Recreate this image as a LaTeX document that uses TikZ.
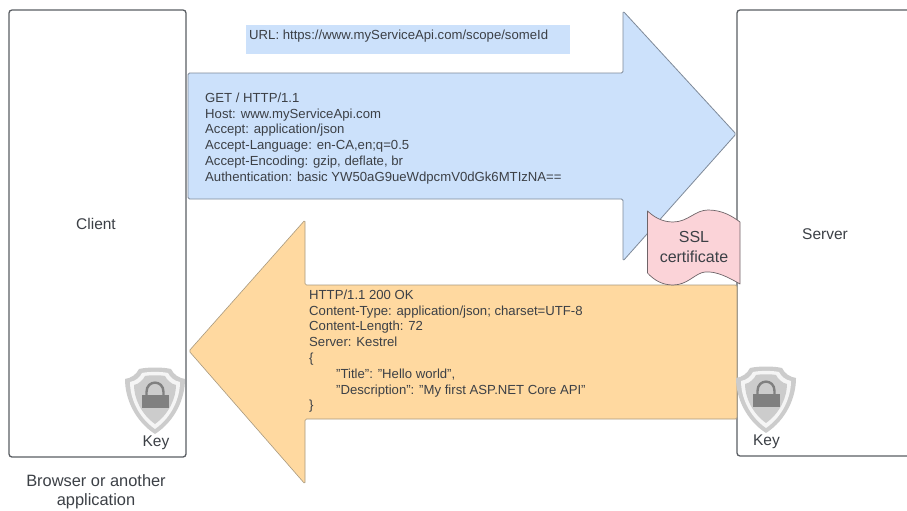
\documentclass[tikz,border=0pt]{standalone}
\usepackage{fontspec}
\setmainfont{Liberation Sans}
\definecolor{boxline}{HTML}{5A5E63}
\definecolor{bluefill}{HTML}{CCE1FB}
\definecolor{blueline}{HTML}{7F8A99}
\definecolor{orangefill}{HTML}{FFD9A0}
\definecolor{orangeline}{HTML}{A89A80}
\definecolor{pinkfill}{HTML}{FBD3D8}
\definecolor{pinkline}{HTML}{6E6468}
\definecolor{txt}{HTML}{3C4046}
\tikzset{
  panel/.style={draw=boxline,line width=1.3pt,rounded corners=3pt,fill=white},
  bluearrow/.style={draw=blueline,line width=0.8pt,fill=bluefill,rounded corners=1.5pt,line join=round},
  orangearrow/.style={draw=orangeline,line width=0.6pt,fill=orangefill,rounded corners=1.5pt,line join=round},
  sslflag/.style={draw=pinkline,line width=0.7pt,fill=pinkfill,line join=round},
  label/.style={text=txt,font=\fontsize{15.5}{19}\selectfont,inner sep=0pt,align=center},
  body/.style={text=txt,font=\fontsize{13.15}{15.8}\selectfont,inner sep=0pt,align=left,anchor=north west},
  keylabel/.style={text=txt,font=\fontsize{15.5}{18}\selectfont,inner sep=0pt},
  shieldouter/.style={fill=black!20,draw=none},
  shieldmid/.style={fill=white!96!black,draw=none},
  shieldinner/.style={fill=black!20,draw=none},
  lockbody/.style={fill=black!50,draw=none},
  lockhoop/.style={draw=black!50,line width=2.4pt,fill=none},
  keyshield/.pic={
    \fill[shieldouter] (-30,-22) .. controls (-24,-23) and (-19,-26) .. (-16,-32)
      .. controls (-8,-34) and (8,-34) .. (16,-32)
      .. controls (19,-26) and (24,-23) .. (30,-22)
      .. controls (30,-2) and (20,20) .. (0,33)
      .. controls (-20,20) and (-30,-2) .. (-30,-22) -- cycle;
    \fill[shieldmid] (-25,-19) .. controls (-19,-20) and (-15,-24) .. (-13,-28)
      .. controls (-6,-29.5) and (6,-29.5) .. (13,-28)
      .. controls (15,-24) and (19,-20) .. (25,-19)
      .. controls (25,-3) and (17,16) .. (0,28)
      .. controls (-17,16) and (-25,-3) .. (-25,-19) -- cycle;
    \fill[shieldinner] (-21,-16) .. controls (-16,-17) and (-12,-21) .. (-10,-25)
      .. controls (-5,-26) and (5,-26) .. (10,-25)
      .. controls (12,-21) and (16,-17) .. (21,-16)
      .. controls (21,-3) and (14,13) .. (0,23)
      .. controls (-14,13) and (-21,-3) .. (-21,-16) -- cycle;
    \fill[lockbody] (-13.5,-6) rectangle (13.5,7);
    \draw[lockhoop] (-8.5,-6) -- (-8.5,-9) .. controls (-8.5,-21.5) and (8.5,-21.5) .. (8.5,-9) -- (8.5,-6);
  }
}
\begin{document}
\begin{tikzpicture}[x=1pt,y=-1pt]
\useasboundingbox (0,0) rectangle (907,511);
\clip (0,0) rectangle (907,511);
\fill[white] (0,0) rectangle (907,511);
% panels
\draw[panel] (9,10) rectangle (186,457);
\draw[panel] (737,10) rectangle (925,456);
% URL strip
\fill[bluefill] (246,25) rectangle (570,54);
% request arrow
\draw[bluearrow] (188,73) -- (623,73) -- (623,11) -- (736,134) -- (623,261) -- (623,199) -- (188,199) -- cycle;
% response arrow
\draw[orangearrow] (189,351) -- (305,220) -- (305,285) -- (737,285) -- (737,419) -- (305,419) -- (305,484) -- cycle;
% certificate
\draw[sslflag] (647.5,211) .. controls (654,217) and (662,222) .. (673,222)
  .. controls (688,222) and (695,210) .. (708,210)
  .. controls (722,210) and (732,216) .. (740,222)
  -- (740,284)
  .. controls (728,277) and (716,271) .. (705,272)
  .. controls (695,273) and (688,285) .. (673,285)
  .. controls (662,285) and (654,280) .. (647.5,273) -- cycle;
\pic at (155,401) {keyshield};
\pic at (766,400) {keyshield};
% texts
\node[label] (client) at (96,224) {Client};
\node[label] (server) at (825,234) {Server};
\node[label,font=\fontsize{16}{20}\selectfont] (ssl) at (694,247) {SSL\\certificate};
\node[keylabel] (keyc) at (156,443) {Key};
\node[keylabel] (keys) at (766.5,442) {Key};
\node[label,font=\fontsize{16.4}{19.5}\selectfont] (browser) at (96,492) {Browser or another\\application};
\node[body] (url) at (249,30) {URL: https://www.myServiceApi.com/scope/someId};
\node[body] (request) at (205,92.5) {GET / HTTP/1.1\\Host: www.myServiceApi.com\\Accept: application/json\\Accept-Language: en-CA,en;q=0.5\\Accept-Encoding: gzip, deflate, br\\Authentication: basic YW50aG9ueWdpcmV0dGk6MTIzNA==};
\node[body] (response) at (309,289.5) {HTTP/1.1 200 OK\\Content-Type: application/json; charset=UTF-8\\Content-Length: 72\\Server: Kestrel\\\{\\\hspace*{27pt}"Title": "Hello world",\\\hspace*{27pt}"Description": "My first ASP.NET Core API"\\\}};
\end{tikzpicture}
\end{document}
